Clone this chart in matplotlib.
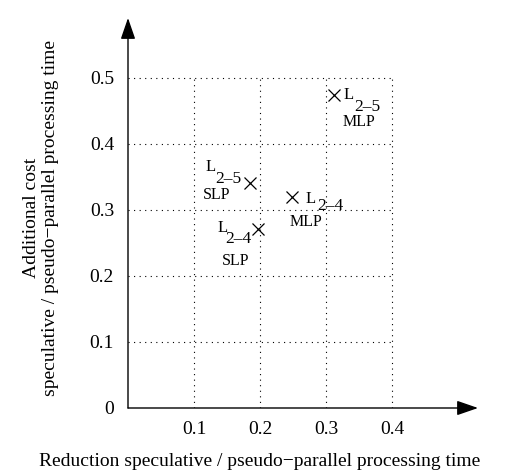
import matplotlib
matplotlib.use("Agg")
import matplotlib.pyplot as plt

plt.rcParams['font.family'] = ['Liberation Serif', 'DejaVu Serif']

# Data
series = ['L', 'L', 'L', 'L']
subs = ['2\u20135', '2\u20134', '2\u20135', '2\u20134']
kinds = ['MLP', 'MLP', 'SLP', 'SLP']
reduction = [0.312, 0.249, 0.185, 0.197]
extra_cost = [0.474, 0.320, 0.341, 0.271]
x_ticks = [0.1, 0.2, 0.3, 0.4]
x_tick_labels = ['0.1', '0.2', '0.3', '0.4']
y_ticks = [0, 0.1, 0.2, 0.3, 0.4, 0.5]
y_tick_labels = ['0', '0.1', '0.2', '0.3', '0.4', '0.5']

W, H = 522, 472
fig = plt.figure(figsize=(W / 100, H / 100), dpi=100)
left, right, bottom, top = 128, 478, 408, 18
ax = fig.add_axes([left / W, (H - bottom) / H, (right - left) / W, (bottom - top) / H])
scale = 660.0
ax.set_xlim(0, (right - left) / scale)
ax.set_ylim(0, (bottom - top) / scale)
for s in ax.spines.values():
    s.set_visible(False)
ax.patch.set_visible(False)

# dotted grid inside [0, 0.4] x [0, 0.5]
gx_max = max(x_ticks)
gy_max = max(y_ticks)
for y in y_ticks[1:]:
    ax.plot([0, gx_max], [y, y], color='black', lw=0.8, ls=(0, (1, 4)))
for x in x_ticks:
    ax.plot([x, x], [0, gy_max], color='black', lw=0.8, ls=(0, (1, 4)))

# axes with arrow heads
arrow = dict(arrowstyle='-|>,head_length=1.3,head_width=0.45',
             color='black', lw=1.0, shrinkA=0, shrinkB=0)
ax.annotate('', xy=(1, 0), xycoords='axes fraction', xytext=(0, 0), arrowprops=arrow)
ax.annotate('', xy=(0, 1), xycoords='axes fraction', xytext=(0, 0), arrowprops=arrow)

ax.set_xticks(x_ticks)
ax.set_xticklabels(x_tick_labels)
ax.set_yticks(y_ticks)
ax.set_yticklabels(y_tick_labels)
ax.tick_params(length=0, labelsize=14)
ax.tick_params(axis='y', pad=10)
ax.tick_params(axis='x', pad=9)

ax.plot(reduction, extra_cost, ls='none', marker='x', color='black', ms=8.5, mew=0.9)

# point labels: offsets in pixels for the letter, the subscript and the kind (centred)
label_layout = [
    ((10, -4), (20, -16), (25, -31)),
    ((13, -6), (25, -13), (14, -29)),
    ((-45, 12), (-35, 0), (-33, -16)),
    ((-41, -3), (-33, -14), (-22, -36)),
]
for x, y, nm, sb, kd, (o1, o2, o3) in zip(reduction, extra_cost, series, subs, kinds, label_layout):
    ax.annotate(nm, (x, y), xytext=o1, textcoords='offset pixels', fontsize=12,
                ha='left', va='baseline')
    ax.annotate(sb, (x, y), xytext=o2, textcoords='offset pixels', fontsize=12.5,
                ha='left', va='baseline')
    ax.annotate(kd, (x, y), xytext=o3, textcoords='offset pixels', fontsize=11.5,
                ha='center', va='baseline')

fig.text(260 / W, 1 - 462 / H, 'Reduction speculative / pseudo\u2212parallel processing time',
         ha='center', va='center', fontsize=14)
fig.text(32 / W, 1 - 218 / H, 'Additional cost', rotation=90,
         ha='center', va='center', fontsize=14)
fig.text(51 / W, 1 - 218 / H, 'speculative / pseudo\u2212parallel processing time', rotation=90,
         ha='center', va='center', fontsize=14)

fig.savefig('out.png', dpi=100)
